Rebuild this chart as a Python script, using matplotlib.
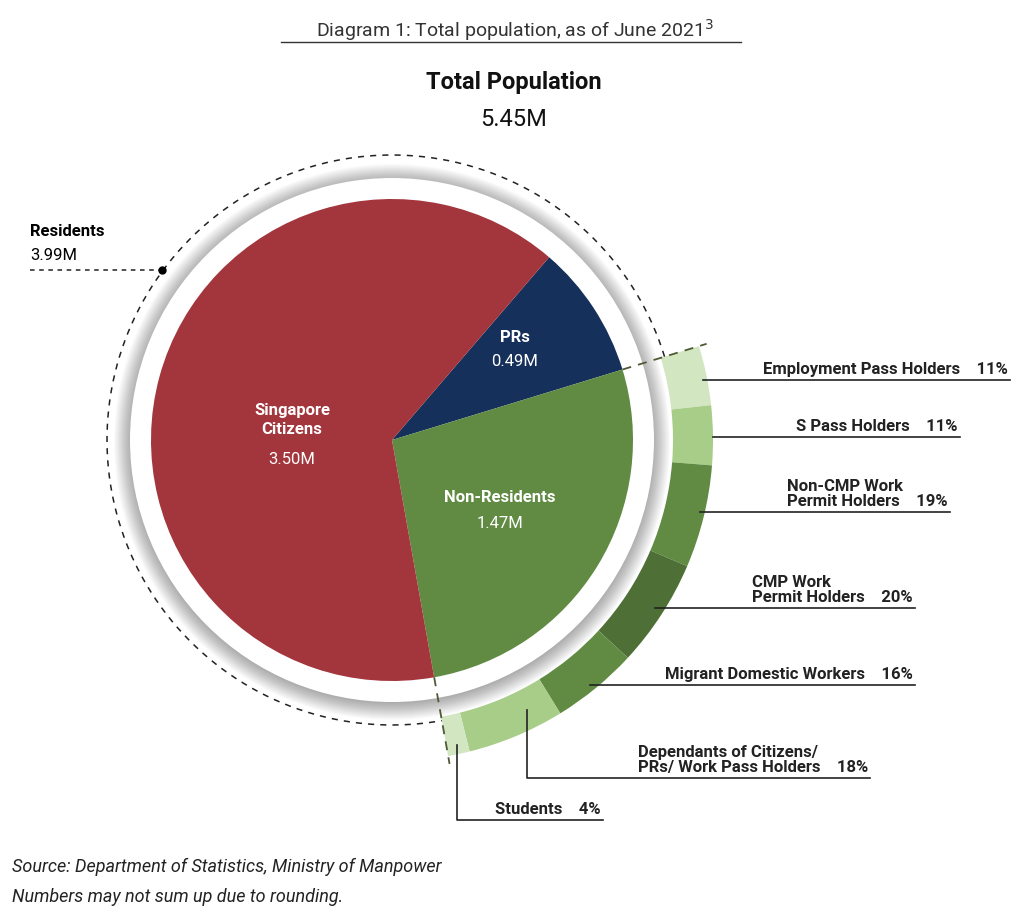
import numpy as np
import matplotlib.pyplot as plt
from matplotlib.patches import Wedge, Circle

plt.rcParams["font.family"] = "Roboto"

# data
main_labels = ["PRs", "Non-Residents", "Singapore Citizens"]
main_values = [0.49, 1.47, 3.50]
main_colors = ["#15305a", "#618b43", "#a3363c"]
nr_labels = ["Employment Pass Holders", "S Pass Holders", "Non-CMP Work\nPermit Holders",
             "CMP Work\nPermit Holders", "Migrant Domestic Workers",
             "Dependants of Citizens/\nPRs/ Work Pass Holders", "Students"]
nr_shares = [11, 11, 19, 20, 16, 18, 4]
nr_colors = ["#d3e6c2", "#a8cd89", "#618b43", "#4e6f35", "#618b43", "#a8cd89", "#d3e6c2"]

W, H = 1028, 924
fig = plt.figure(figsize=(W / 100, H / 100), dpi=100)
ax = fig.add_axes([0, 0, 1, 1])
ax.set_xlim(0, W)
ax.set_ylim(H, 0)
ax.set_aspect("equal")
ax.axis("off")

cx, cy, r = 392, 440, 241
start = 17.0  # PR/NR boundary, degrees
total = sum(main_values)

# shadowed white ring
for k in range(18):
    ax.add_patch(Circle((cx, cy + 2), 278 - k, color="#000000", alpha=0.018, lw=0))
ax.add_patch(Circle((cx, cy), 262, color="white", lw=0))

# main pie (angles in screen coords: y inverted, so negate)
angles = [start]
for v in main_values:
    angles.append(angles[-1] + 360 * v / total)
# PR goes counterclockwise from start; NR clockwise from start
pr_a = (start, start + 360 * main_values[0] / total)
nr_a = (start - 360 * main_values[1] / total, start)
sc_a = (pr_a[1], nr_a[0] + 360)
for (a0, a1), col in zip([pr_a, nr_a, sc_a], main_colors):
    ax.add_patch(Wedge((cx, cy), r, -a1, -a0, color=col, lw=0))

def pt(rad, ang):
    t = np.deg2rad(ang)
    return cx + rad * np.cos(t), cy - rad * np.sin(t)

# outer ring
ring_in, ring_out = 281, 321
a = start
sub_ang = []
for s, col in zip(nr_shares, nr_colors):
    da = (nr_a[1] - nr_a[0]) * s / sum(nr_shares)
    ax.add_patch(Wedge((cx, cy), ring_out, -a, -(a - da), width=ring_out - ring_in,
                       color=col, lw=0))
    sub_ang.append(a - da / 2)
    a -= da

# dashed outlines
th = np.linspace(np.deg2rad(nr_a[1]), np.deg2rad(nr_a[0] + 360), 300)
ax.plot(cx + 285 * np.cos(th), cy - 285 * np.sin(th), ls=(0, (4, 4)), color="#222222", lw=1.1)
for ang in nr_a:
    x0, y0 = pt(r, ang)
    x1, y1 = pt(ring_out + 8, ang)
    ax.plot([x0, x1], [y0, y1], ls=(0, (5, 4)), color="#4e5a33", lw=1.3)

# pie labels
wt = dict(color="white", ha="center", va="center", fontsize=12)
ax.text(515, 338, "PRs", fontweight="bold", **wt)
ax.text(515, 361, "0.49M", **wt)
ax.text(292, 420, "Singapore\nCitizens", fontweight="bold", linespacing=1.3, **wt)
ax.text(292, 459, "3.50M", **wt)
ax.text(500, 498, "Non-Residents", fontweight="bold", **wt)
ax.text(500, 523, "1.47M", **wt)

# Residents label
ax.text(30, 232, "Residents", fontweight="bold", fontsize=12, va="center")
ax.text(30, 256, "3.99M", fontsize=12, va="center")
ax.plot([30, 162], [270, 270], ls=(0, (3, 3)), color="#222222", lw=1.1)
ax.plot(162, 270, "o", color="black", ms=5)

# leader lines for sub-segments
leaders = [
    ((703, 380), (1010, 380), None),
    ((713, 437), (960, 437), None),
    ((700, 512), (950, 512), None),
    ((655, 608), (915, 608), None),
    ((590, 685), (915, 685), None),
    ((527, 710), (870, 778), "v"),
    ((457, 745), (603, 820), "v"),
]
for (p0, p1, kind), lab, share in zip(leaders, nr_labels, nr_shares):
    if kind == "v":
        xs, ys = [p0[0], p0[0], p1[0]], [p0[1], p1[1], p1[1]]
    else:
        xs, ys = [p0[0], p1[0]], [p0[1], p1[1]]
    ax.plot(xs, ys, color="#222222", lw=1.2)
    ax.text(p1[0] - 2, p1[1] - 3, f"{lab}    {share}%", ha="right", va="bottom",
            fontsize=12, fontweight="bold", color="#222222", linespacing=1.0,
            multialignment="left")

# titles
ax.text(W / 2 + 1, 30, "Diagram 1: Total population, as of June 2021$^3$", ha="center",
        va="center", fontsize=14, color="#333333")
ax.plot([281, 741], [42, 42], color="#333333", lw=1)
ax.text(W / 2, 82, "Total Population", ha="center", va="center", fontsize=17,
        fontweight="bold", color="#111111")
ax.text(W / 2, 119, "5.45M", ha="center", va="center", fontsize=17, color="#111111")

ax.text(12, 867, "Source: Department of Statistics, Ministry of Manpower", fontsize=13,
        style="italic", va="center", color="#222222")
ax.text(12, 897, "Numbers may not sum up due to rounding.", fontsize=13,
        style="italic", va="center", color="#222222")

fig.savefig("out.png", dpi=100)
